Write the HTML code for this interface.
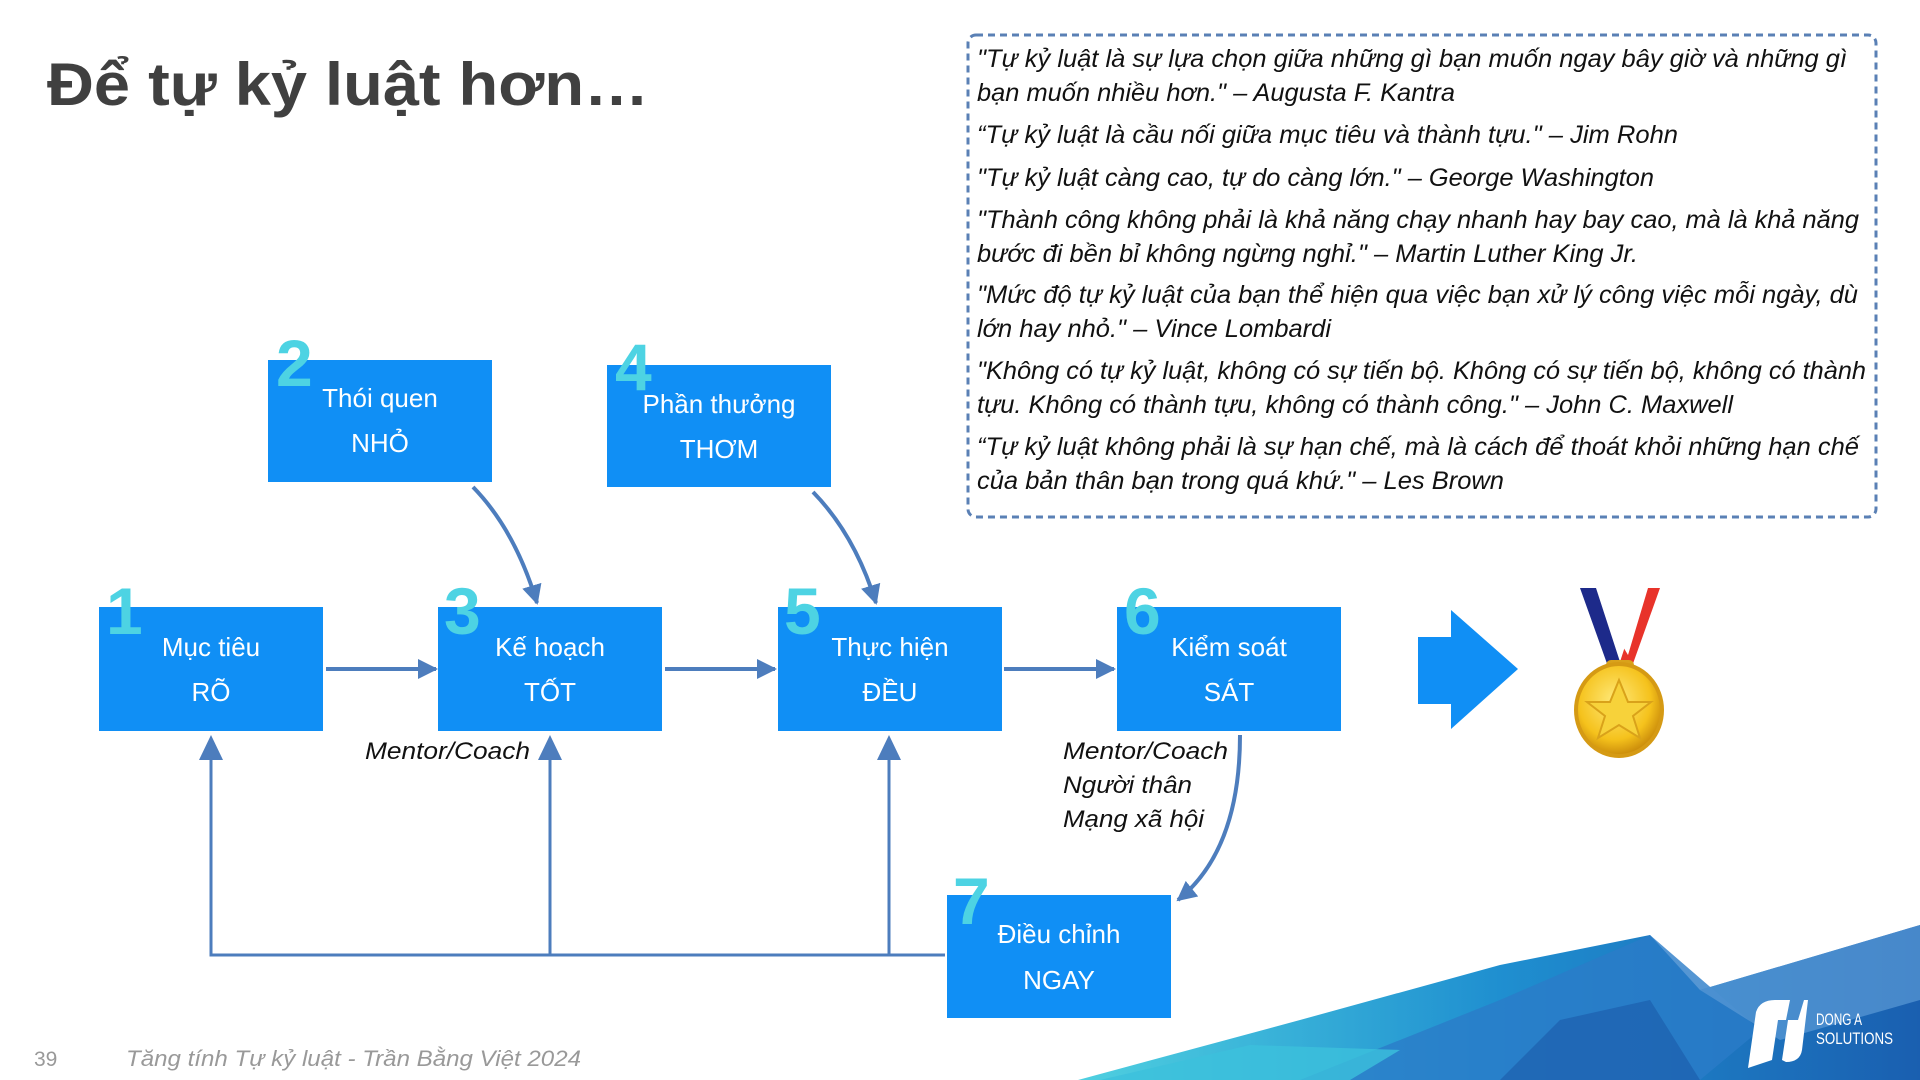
<!DOCTYPE html>
<html><head><meta charset="utf-8"><style>
html,body{margin:0;padding:0;background:#fff;}
svg{display:block;}
</style></head><body>
<svg width="1920" height="1080" viewBox="0 0 1920 1080" xmlns="http://www.w3.org/2000/svg">
<defs>
<marker id="ah" viewBox="0 0 10 10" refX="9" refY="5" markerWidth="5" markerHeight="5" orient="auto-start-reverse" markerUnits="strokeWidth">
<path d="M0,0 L10,5 L0,10 z" fill="#4d7dbd"/>
</marker>
<linearGradient id="w1" x1="0" y1="0" x2="1" y2="0"><stop offset="0" stop-color="#4fd0e0"/><stop offset="0.5" stop-color="#1f8fd0"/><stop offset="1" stop-color="#1a5fb0"/></linearGradient>
<radialGradient id="gold" cx="0.45" cy="0.4" r="0.6"><stop offset="0" stop-color="#ffe97a"/><stop offset="0.7" stop-color="#f5c21c"/><stop offset="1" stop-color="#c98a0a"/></radialGradient>
</defs>

<!-- bottom wave -->
<polygon points="1078,1080 1300,1020 1500,965 1650,935 1700,990 1920,925 1920,1080" fill="url(#w1)"/>
<polygon points="1300,1080 1500,1000 1650,935 1760,1030 1700,1080" fill="#2a7cc8" opacity="0.8"/>
<polygon points="1100,1080 1250,1045 1400,1050 1350,1080" fill="#3cc0dc" opacity="0.8"/>
<polygon points="1700,990 1920,925 1920,1000 1780,1040" fill="#5b9ad6" opacity="0.7"/>
<polygon points="1500,1080 1560,1020 1650,1000 1700,1080" fill="#1c5fae" opacity="0.7"/>
<!-- logo -->
<path d="M1748,1068 L1756,1012 Q1760,1000 1775,1000 L1790,1000 L1786,1020 L1778,1020 L1772,1060 Z" fill="#fff"/>
<path d="M1782,1060 L1788,1020 L1798,1020 L1804,1000 L1808,1000 L1802,1050 Q1800,1062 1786,1062 Z" fill="#fff"/>
<text x="1816" y="1025" font-family="Liberation Sans, sans-serif" font-size="17" fill="#fff" textLength="46" lengthAdjust="spacingAndGlyphs">DONG A</text>
<text x="1816" y="1044" font-family="Liberation Sans, sans-serif" font-size="17" fill="#fff" textLength="77" lengthAdjust="spacingAndGlyphs">SOLUTIONS</text>

<!-- title -->
<text x="47" y="105" font-family="Liberation Sans, sans-serif" font-weight="bold" font-size="60" fill="#404040" textLength="602" lengthAdjust="spacingAndGlyphs">Để tự kỷ luật hơn…</text>

<!-- quote box -->
<rect x="968" y="35" width="908" height="482" rx="8" fill="none" stroke="#5a80b5" stroke-width="3" stroke-dasharray="7,5"/>
<g font-family="Liberation Sans, sans-serif" font-style="italic" font-size="25" fill="#111">
<text x="977" y="67" textLength="870" lengthAdjust="spacingAndGlyphs">"Tự kỷ luật là sự lựa chọn giữa những gì bạn muốn ngay bây giờ và những gì</text>
<text x="977" y="101" textLength="478" lengthAdjust="spacingAndGlyphs">bạn muốn nhiều hơn." – Augusta F. Kantra</text>
<text x="977" y="143" textLength="701" lengthAdjust="spacingAndGlyphs">“Tự kỷ luật là cầu nối giữa mục tiêu và thành tựu." – Jim Rohn</text>
<text x="977" y="186" textLength="677" lengthAdjust="spacingAndGlyphs">"Tự kỷ luật càng cao, tự do càng lớn." – George Washington</text>
<text x="977" y="228" textLength="882" lengthAdjust="spacingAndGlyphs">"Thành công không phải là khả năng chạy nhanh hay bay cao, mà là khả năng</text>
<text x="977" y="262" textLength="661" lengthAdjust="spacingAndGlyphs">bước đi bền bỉ không ngừng nghỉ." – Martin Luther King Jr.</text>
<text x="977" y="303" textLength="881" lengthAdjust="spacingAndGlyphs">"Mức độ tự kỷ luật của bạn thể hiện qua việc bạn xử lý công việc mỗi ngày, dù</text>
<text x="977" y="337" textLength="354" lengthAdjust="spacingAndGlyphs">lớn hay nhỏ." – Vince Lombardi</text>
<text x="977" y="379" textLength="889" lengthAdjust="spacingAndGlyphs">"Không có tự kỷ luật, không có sự tiến bộ. Không có sự tiến bộ, không có thành</text>
<text x="977" y="413" textLength="756" lengthAdjust="spacingAndGlyphs">tựu. Không có thành tựu, không có thành công." – John C. Maxwell</text>
<text x="977" y="455" textLength="882" lengthAdjust="spacingAndGlyphs">“Tự kỷ luật không phải là sự hạn chế, mà là cách để thoát khỏi những hạn chế</text>
<text x="977" y="489" textLength="527" lengthAdjust="spacingAndGlyphs">của bản thân bạn trong quá khứ." – Les Brown</text>
</g>

<!-- connectors -->
<g stroke="#4d7dbd" stroke-width="4" fill="none" marker-end="url(#ah)">
<line x1="326" y1="669" x2="436" y2="669"/>
<line x1="665" y1="669" x2="775" y2="669"/>
<line x1="1004" y1="669" x2="1114" y2="669"/>
<path d="M473,487 Q515,530 537,603"/>
<path d="M813,492 Q855,535 876,603"/>
<path d="M1240,735 Q1240,850 1178,900"/>
</g>
<g stroke="#4d7dbd" stroke-width="3" fill="none">
<polyline points="945,955 211,955 211,750"/>
<line x1="550" y1="955" x2="550" y2="750"/>
<line x1="889" y1="955" x2="889" y2="750"/>
</g>
<g fill="#4d7dbd">
<polygon points="211,735 199,760 223,760"/>
<polygon points="550,735 538,760 562,760"/>
<polygon points="889,735 877,760 901,760"/>
</g>

<!-- boxes -->
<g fill="#108ff5">
<rect x="268" y="360" width="224" height="122"/>
<rect x="607" y="365" width="224" height="122"/>
<rect x="99" y="607" width="224" height="124"/>
<rect x="438" y="607" width="224" height="124"/>
<rect x="778" y="607" width="224" height="124"/>
<rect x="1117" y="607" width="224" height="124"/>
<rect x="947" y="895" width="224" height="123"/>
<polygon points="1418,637 1451,637 1451,610 1518,669 1451,729 1451,704 1418,704"/>
</g>
<g font-family="Liberation Sans, sans-serif" font-size="26" fill="#fff" text-anchor="middle">
<text x="380" y="407">Thói quen</text><text x="380" y="452">NHỎ</text>
<text x="719" y="413">Phần thưởng</text><text x="719" y="458">THƠM</text>
<text x="211" y="656">Mục tiêu</text><text x="211" y="701">RÕ</text>
<text x="550" y="656">Kế hoạch</text><text x="550" y="701">TỐT</text>
<text x="890" y="656">Thực hiện</text><text x="890" y="701">ĐỀU</text>
<text x="1229" y="656">Kiểm soát</text><text x="1229" y="701">SÁT</text>
<text x="1059" y="943">Điều chỉnh</text><text x="1059" y="989">NGAY</text>
</g>
<g font-family="Liberation Sans, sans-serif" font-weight="bold" font-size="66" fill="#4dd3e3">
<text x="276" y="386">2</text>
<text x="615" y="390">4</text>
<text x="106" y="634">1</text>
<text x="444" y="634">3</text>
<text x="784" y="634">5</text>
<text x="1124" y="634">6</text>
<text x="953" y="924">7</text>
</g>

<!-- labels -->
<g font-family="Liberation Sans, sans-serif" font-style="italic" font-size="24" fill="#111">
<text x="365" y="759" textLength="165" lengthAdjust="spacingAndGlyphs">Mentor/Coach</text>
<text x="1063" y="759" textLength="165" lengthAdjust="spacingAndGlyphs">Mentor/Coach</text>
<text x="1063" y="793" textLength="129" lengthAdjust="spacingAndGlyphs">Người thân</text>
<text x="1063" y="827" textLength="141" lengthAdjust="spacingAndGlyphs">Mạng xã hội</text>
</g>

<!-- medal -->
<polygon points="1580,588 1596,588 1622,668 1610,672" fill="#1d2a8a"/>
<polygon points="1660,588 1644,588 1618,668 1630,672" fill="#e8332a"/>
<polygon points="1602,588 1612,588 1626,640 1620,660" fill="#fff"/>
<polygon points="1636,588 1648,588 1628,655 1622,645" fill="#fff"/>
<rect x="1608" y="662" width="24" height="14" rx="3" fill="none" stroke="#d9a21a" stroke-width="4"/>
<ellipse cx="1619" cy="710" rx="43" ry="46" fill="url(#gold)" stroke="#d59a14" stroke-width="4"/>
<polygon points="1619,680 1628,702 1651,702 1633,716 1640,738 1619,725 1598,738 1605,716 1587,702 1610,702" fill="#f7d23a" stroke="#d9a21a" stroke-width="2"/>

<!-- footer -->
<text x="34" y="1066" font-family="Liberation Sans, sans-serif" font-size="21" fill="#999">39</text>
<text x="126" y="1066" font-family="Liberation Sans, sans-serif" font-style="italic" font-size="22" fill="#999" textLength="455" lengthAdjust="spacingAndGlyphs">Tăng tính Tự kỷ luật - Trần Bằng Việt 2024</text>
</svg>
</body></html>
